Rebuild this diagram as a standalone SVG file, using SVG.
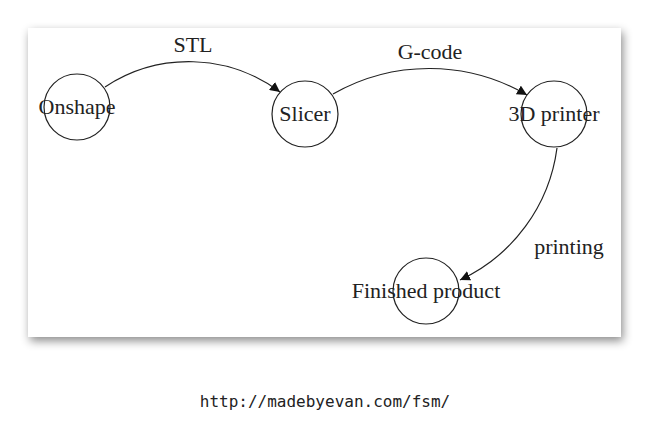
<svg xmlns="http://www.w3.org/2000/svg" width="650" height="438" viewBox="0 0 650 438">
<defs>
<filter id="sh" x="-10%" y="-10%" width="120%" height="125%">
<feDropShadow dx="2" dy="4" stdDeviation="5" flood-color="#000" flood-opacity="0.45"/>
</filter>
<marker id="ah" viewBox="0 0 10 10" refX="10" refY="5" markerWidth="10" markerHeight="10" markerUnits="userSpaceOnUse" orient="auto">
<path d="M0,0 L10,5 L0,10 z" fill="#111"/>
</marker>
</defs>
<style>
.n{fill:none;stroke:#222;stroke-width:1.2}
.t{font-family:"Liberation Serif","Times New Roman",serif;font-size:22px;fill:#222;text-anchor:middle}
.e{fill:none;stroke:#222;stroke-width:1.2;marker-end:url(#ah)}
.u{font-family:"DejaVu Sans Mono",monospace;font-size:16px;fill:#222;text-anchor:middle}
</style>
<rect width="650" height="438" fill="#fff"/>
<rect x="28" y="28" width="593" height="309" fill="#fff" filter="url(#sh)"/>
<g id="connectors">
<path class="e" d="M105,87 A152,152 0 0 1 280,92"/>
<text class="t" x="193" y="52">STL</text>
<path class="e" d="M333,94 A194,194 0 0 1 527,95"/>
<text class="t" x="430" y="59">G-code</text>
<path class="e" d="M557,148 A170,170 0 0 1 460,280"/>
<text class="t" x="569" y="254">printing</text>
</g>
<g id="onshape">
<circle class="n" cx="77" cy="107" r="33"/>
<text class="t" x="77" y="114">Onshape</text>
</g>
<g id="slicer">
<circle class="n" cx="305" cy="114" r="33"/>
<text class="t" x="305" y="121">Slicer</text>
</g>
<g id="printer">
<circle class="n" cx="554" cy="114" r="33"/>
<text class="t" x="554" y="121">3D printer</text>
</g>
<g id="finished">
<circle class="n" cx="426" cy="291" r="33"/>
<text class="t" x="426" y="298">Finished product</text>
</g>
<text class="u" x="325" y="407">http://madebyevan.com/fsm/</text>
</svg>
